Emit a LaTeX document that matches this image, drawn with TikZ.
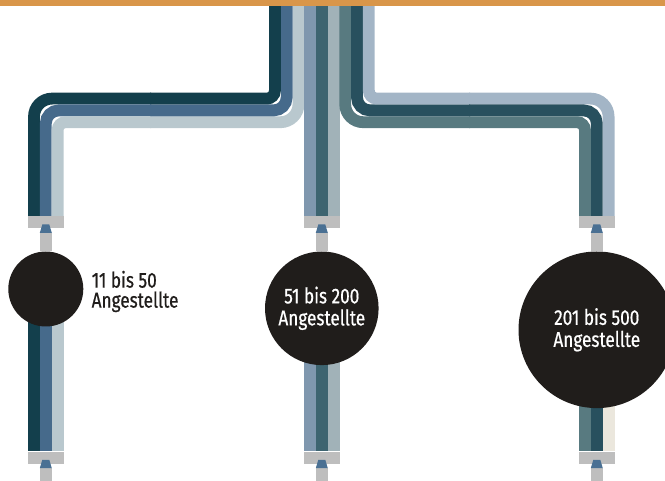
\documentclass[tikz,border=0pt]{standalone}
\usepackage{fontspec}
\newfontfamily\labelfont[FakeStretch=0.8,FakeBold=0.6]{Fira Sans}
\usetikzlibrary{positioning,backgrounds}
\definecolor{BarOrange}{RGB}{217,150,74}
\definecolor{SmallDark}{RGB}{19,63,76}
\definecolor{SmallBlue}{RGB}{70,106,139}
\definecolor{SmallLight}{RGB}{185,200,206}
\definecolor{MidBlue}{RGB}{127,151,174}
\definecolor{MidDark}{RGB}{61,100,112}
\definecolor{MidLight}{RGB}{161,178,184}
\definecolor{LargeTeal}{RGB}{88,122,128}
\definecolor{LargeDark}{RGB}{40,80,94}
\definecolor{LargeLight}{RGB}{163,181,198}
\definecolor{LargeCream}{RGB}{235,231,221}
\definecolor{PlateGrey}{RGB}{190,190,190}
\definecolor{PlugBlue}{RGB}{74,112,147}
\definecolor{DiscBlack}{RGB}{32,29,27}

\begin{document}
\begin{tikzpicture}[x=1pt,y=-1pt,
    band/.style={line width=11.8pt},
    plate/.style={fill=PlateGrey,minimum width=35.4pt,minimum height=12pt,inner sep=0pt},
    stem/.style={fill=PlateGrey,minimum width=11.6pt,minimum height=18pt,inner sep=0pt},
    disc/.style={circle,fill=DiscBlack,inner sep=0pt,text=white,align=center,
                 font=\labelfont\fontsize{21.5}{22}\selectfont},
    tag/.style={inner sep=0pt,align=left,text=DiscBlack,
                font=\labelfont\fontsize{21.5}{20}\selectfont}
  ]
  \useasboundingbox (0,0) rectangle (665,481);
  \clip (0,0) rectangle (665,481);

  % top bar
  \node[fill=BarOrange,minimum width=665pt,minimum height=6pt,inner sep=0pt,
        anchor=north west] (bar) at (0,0) {};

  % plates, plugs and stems
  \node[plate] (s_up)   at (45.8,222.3)  {};
  \node[plate] (m_up)   at (321.8,222.3) {};
  \node[plate] (l_up)   at (596.8,222.3) {};
  \node[plate] (s_down) at (45.8,457.6)  {};
  \node[plate] (m_down) at (321.8,457.6) {};
  \node[plate] (l_down) at (596.8,457.6) {};
  \foreach \p in {s_up,m_up,l_up,s_down,m_down,l_down} {
    \node[stem,anchor=north] (\p_stem) at ([yshift=-4.4pt]\p.south) {};
    \fill[PlugBlue] ([xshift=-3.5pt,yshift=4pt]\p.south) -- ([xshift=3.5pt,yshift=4pt]\p.south)
      -- ([xshift=6pt]\p_stem.north) -- ([xshift=-6pt]\p_stem.north) -- cycle;
  }

  % discs
  \node[disc,minimum size=75pt,below=0pt of s_up_stem] (s_disc) {};
  \node[disc,minimum size=113.6pt,below=0pt of m_up_stem] (m_disc) {51 bis 200\\Angestellte};
  \node[disc,minimum size=156.6pt,below=0pt of l_up_stem] (l_disc) {201 bis 500\\Angestellte};
  \node[tag,anchor=west] (s_tag) at ([xshift=8pt,yshift=-2.5pt]s_disc.east) {11 bis 50\\Angestellte};

  \begin{scope}[on background layer]
    % left branch
    \draw[band,SmallLight,rounded corners=18pt] (298.5,3) -- (298.5,122.2) -- (150,122.2);
    \draw[band,SmallBlue,rounded corners=13pt]  (286.7,3) -- (286.7,110.4) -- (150,110.4);
    \draw[band,SmallDark,rounded corners=8pt]   (274.9,3) -- (274.9,98.6)  -- (150,98.6);
    \draw[band,SmallDark,rounded corners=18pt]  (151,98.6)  -- (34,98.6)    -- (34,0 |- s_up.north);
    \draw[band,SmallBlue,rounded corners=13pt]  (151,110.4) -- (45.8,110.4) -- (45.8,0 |- s_up.north);
    \draw[band,SmallLight,rounded corners=8pt]  (151,122.2) -- (57.6,122.2) -- (57.6,0 |- s_up.north);

    % middle branch
    \draw[band,MidBlue]  (310,3)   -- (310,0 |- m_up.north);
    \draw[band,MidDark]  (321.8,3) -- (321.8,0 |- m_up.north);
    \draw[band,MidLight] (333.6,3) -- (333.6,0 |- m_up.north);

    % right branch
    \draw[band,LargeTeal,rounded corners=18pt]  (345.2,3) -- (345.2,122.2) -- (470,122.2);
    \draw[band,LargeDark,rounded corners=13pt]  (357,3)   -- (357,110.4)   -- (470,110.4);
    \draw[band,LargeLight,rounded corners=8pt]  (368.8,3) -- (368.8,98.6)  -- (470,98.6);
    \draw[band,LargeLight,rounded corners=18pt] (469,98.6)  -- (608.6,98.6)  -- (608.6,0 |- l_up.north);
    \draw[band,LargeDark,rounded corners=13pt]  (469,110.4) -- (596.8,110.4) -- (596.8,0 |- l_up.north);
    \draw[band,LargeTeal,rounded corners=8pt]   (469,122.2) -- (585,122.2)   -- (585,0 |- l_up.north);

    % bands leaving the discs
    \draw[band,SmallDark]  (34,0 |- s_disc.center)    -- (34,0 |- s_down.north);
    \draw[band,SmallBlue]  (45.8,0 |- s_disc.center)  -- (45.8,0 |- s_down.north);
    \draw[band,SmallLight] (57.6,0 |- s_disc.center)  -- (57.6,0 |- s_down.north);
    \draw[band,MidBlue]    (310,0 |- m_disc.center)   -- (310,0 |- m_down.north);
    \draw[band,MidDark]    (321.8,0 |- m_disc.center) -- (321.8,0 |- m_down.north);
    \draw[band,MidLight]   (333.6,0 |- m_disc.center) -- (333.6,0 |- m_down.north);
    \draw[band,LargeTeal]  (585,0 |- l_disc.center)   -- (585,0 |- l_down.north);
    \draw[band,LargeDark]  (596.8,0 |- l_disc.center) -- (596.8,0 |- l_down.north);
    \draw[band,LargeCream] (608.6,0 |- l_disc.center) -- (608.6,0 |- l_down.north);
  \end{scope}
\end{tikzpicture}
\end{document}
